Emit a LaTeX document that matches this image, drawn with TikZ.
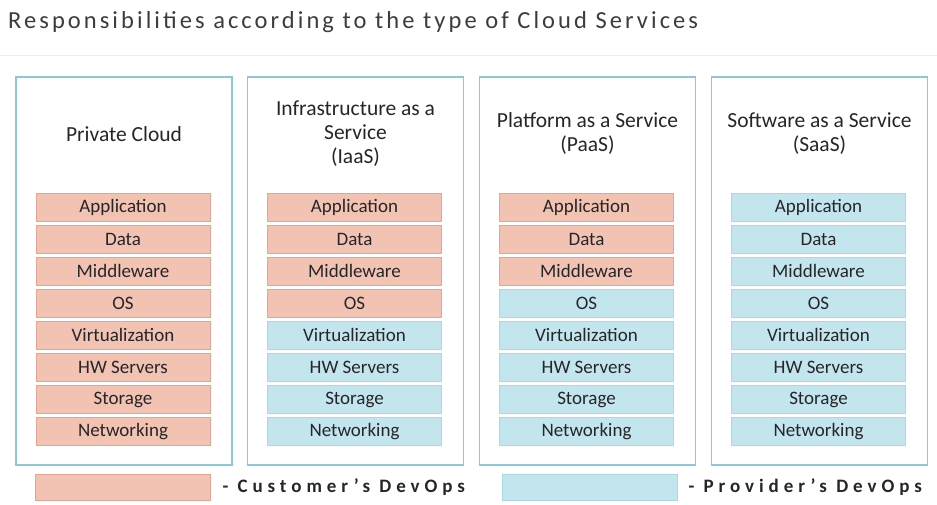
\documentclass[tikz,border=0pt]{standalone}
\usepackage{fontspec}
\setmainfont{Carlito}
\newfontfamily\titlefont[LetterSpace=12.5]{Carlito}
\newfontfamily\legendfont[LetterSpace=26]{Carlito}
\usepackage{tikz}
\usetikzlibrary{positioning}
\definecolor{custfill}{HTML}{F2C2B3}
\definecolor{custline}{HTML}{E3A696}
\definecolor{provfill}{HTML}{C2E5EE}
\definecolor{provline}{HTML}{A9D8E3}
\definecolor{boxline}{HTML}{8CC9D7}
\definecolor{txt}{HTML}{262626}

\begin{document}
\begin{tikzpicture}[x=1pt,y=-1pt,
    colbox/.style={draw=boxline,line width=1.5pt,minimum width=216pt,minimum height=388pt,inner sep=0pt},
    layer/.style={line width=0.6pt,minimum width=174pt,minimum height=28pt,inner sep=0pt,
        font=\fontsize{19}{22}\selectfont,text=txt},
    cust/.style={layer,fill=custfill,draw=custline},
    prov/.style={layer,fill=provfill,draw=provline},
    header/.style={align=center,font=\fontsize{21.5}{24}\selectfont,text=txt},
    legend/.style={inner sep=0pt,font=\legendfont\bfseries\fontsize{19}{22}\selectfont,text=txt}]
        \useasboundingbox (0,0) rectangle (937,504);

        % Title and rule
        \node[anchor=base west,inner sep=0pt,text=txt!90,font=\titlefont\fontsize{24.5}{28}\selectfont] (title) at (8,28)
            {Responsibilities according to the type of Cloud Services};
        \draw[gray!15,line width=0.8pt] (0,55) -- (937,55);

        % Columns with their layers
        \foreach \n/\x/\k/\hd in {1/124/8/Private Cloud,
                2/355.5/4/Infrastructure as a\\Service\\(IaaS),
                3/587.5/3/Platform as a Service\\(PaaS),
                4/819.5/0/Software as a Service\\(SaaS)} {
            \node[colbox] (col\n) at (\x,271) {};
            \node[header] (hd\n) at (\x,134) {\hd};
            \foreach \l [count=\i] in {Application,Data,Middleware,OS,Virtualization,HW Servers,Storage,Networking} {
                \ifnum\i>\k \def\sty{prov}\else\def\sty{cust}\fi
                \node[\sty] (l\n-\i) at ({\x-1},{207+32.1*(\i-1)}) {\l};
            }
        }

        % Legend
        \node[cust,minimum width=175pt,minimum height=26pt] (legcust) at (122.5,487) {};
        \node[legend,right=12pt of legcust] (legcusttext) {- Customer’s DevOps};
        \node[prov,minimum width=175pt,minimum height=26pt] (legprov) at (589.5,487) {};
        \node[legend,right=11pt of legprov] (legprovtext) {- Provider’s DevOps};
    \end{tikzpicture}
\end{document}
